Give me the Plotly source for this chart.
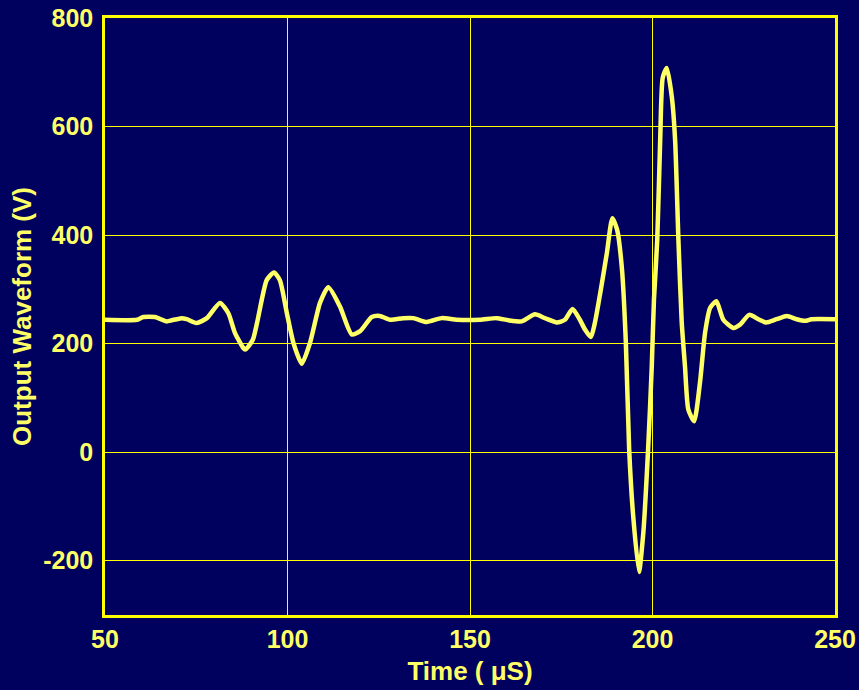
import plotly.graph_objects as go

time_us = [50.0, 58.8, 60.5, 63.7, 66.9, 68.3, 71.0, 72.4, 75.1, 77.9,
           81.5, 83.8, 85.6, 87.9, 88.4, 90.5, 94.3, 96.3, 97.9, 99.8,
           101.6, 103.9, 106.2, 108.9, 111.2, 114.4, 117.6, 119.9, 123.1, 125.3,
           128.1, 131.7, 134.5, 138.1, 142.2, 146.4, 152.7, 157.3, 160.5, 164.2,
           167.8, 170.5, 173.8, 176.0, 178.1, 180.1, 181.5, 183.1, 184.2, 185.6,
           187.5, 189.0, 190.3, 191.6, 192.7, 193.6, 194.7, 196.3, 197.5, 198.8,
           199.8, 200.4, 201.3, 202.1, 202.8, 203.9, 205.3, 206.2, 207.1, 208.0,
           208.9, 209.8, 211.4, 213.0, 214.4, 215.8, 217.5, 219.4, 222.1, 224.0,
           226.5, 229.0, 231.1, 234.0, 236.8, 239.5, 241.8, 243.6, 250.0]
voltage = [244, 244, 249, 249, 241, 243, 247, 245, 238, 247,
           275, 256, 220, 192, 189, 207, 317, 331, 317, 257,
           202, 163, 202, 275, 304, 268, 217, 223, 249, 251,
           244, 247, 247, 240, 247, 244, 244, 247, 243, 241,
           254, 247, 239, 244, 264, 244, 226, 212, 238, 290,
           367, 431, 410, 340, 202, 6, -117, -221, -147, 6,
           158, 281, 391, 574, 690, 708, 654, 574, 391, 240,
           158, 79, 57, 128, 220, 266, 278, 244, 229, 235,
           253, 245, 239, 245, 251, 245, 242, 245, 245]

x_ticks = [50, 100, 150, 200, 250]
y_ticks = [-200, 0, 200, 400, 600, 800]

BG = "#00005E"
YEL = "#FFFF00"
TXT = "#FFFF66"
FONT = "Liberation Sans, Arial, sans-serif"

fig = go.Figure()
fig.add_trace(go.Scatter(
    x=time_us, y=voltage, mode="lines",
    line=dict(color="#FFFF66", width=4.5, shape="spline", smoothing=0.6),
    hoverinfo="skip", showlegend=False,
))

fig.update_layout(
    width=859, height=690,
    margin=dict(l=105, r=24, t=18, b=75, autoexpand=False),
    paper_bgcolor=BG, plot_bgcolor=BG,
    font=dict(family=FONT, color=TXT),
    xaxis=dict(
        range=[50, 250], tickvals=x_ticks, ticktext=[str(v) for v in x_ticks],
        showgrid=True, gridcolor=YEL, gridwidth=1,
        showline=True, linecolor=YEL, linewidth=2.5, mirror=True,
        zeroline=False, ticks="", ticklen=0, ticklabelstandoff=0, automargin=False,
        tickfont=dict(family=FONT, size=25, color=TXT, weight="bold"),
        title=dict(text="Time ( \u03bcS)", standoff=11,
                   font=dict(family=FONT, size=26, color=TXT, weight="bold")),
    ),
    yaxis=dict(
        range=[-300, 800], tickvals=y_ticks, ticktext=[str(v) for v in y_ticks],
        showgrid=True, gridcolor=YEL, gridwidth=1,
        showline=True, linecolor=YEL, linewidth=2.5, mirror=True,
        zeroline=False, ticks="", ticklen=0, ticklabelstandoff=4, automargin=False,
        tickfont=dict(family=FONT, size=25, color=TXT, weight="bold"),
        title=dict(text="Output Waveform (V)", standoff=5,
                   font=dict(family=FONT, size=26, color=TXT, weight="bold")),
    ),
)

fig.write_html(
    "out.html",
    config={"displayModeBar": False},
    post_script="document.body.style.margin='0';document.body.style.padding='0';"
                "document.body.style.background='" + BG + "';",
)
